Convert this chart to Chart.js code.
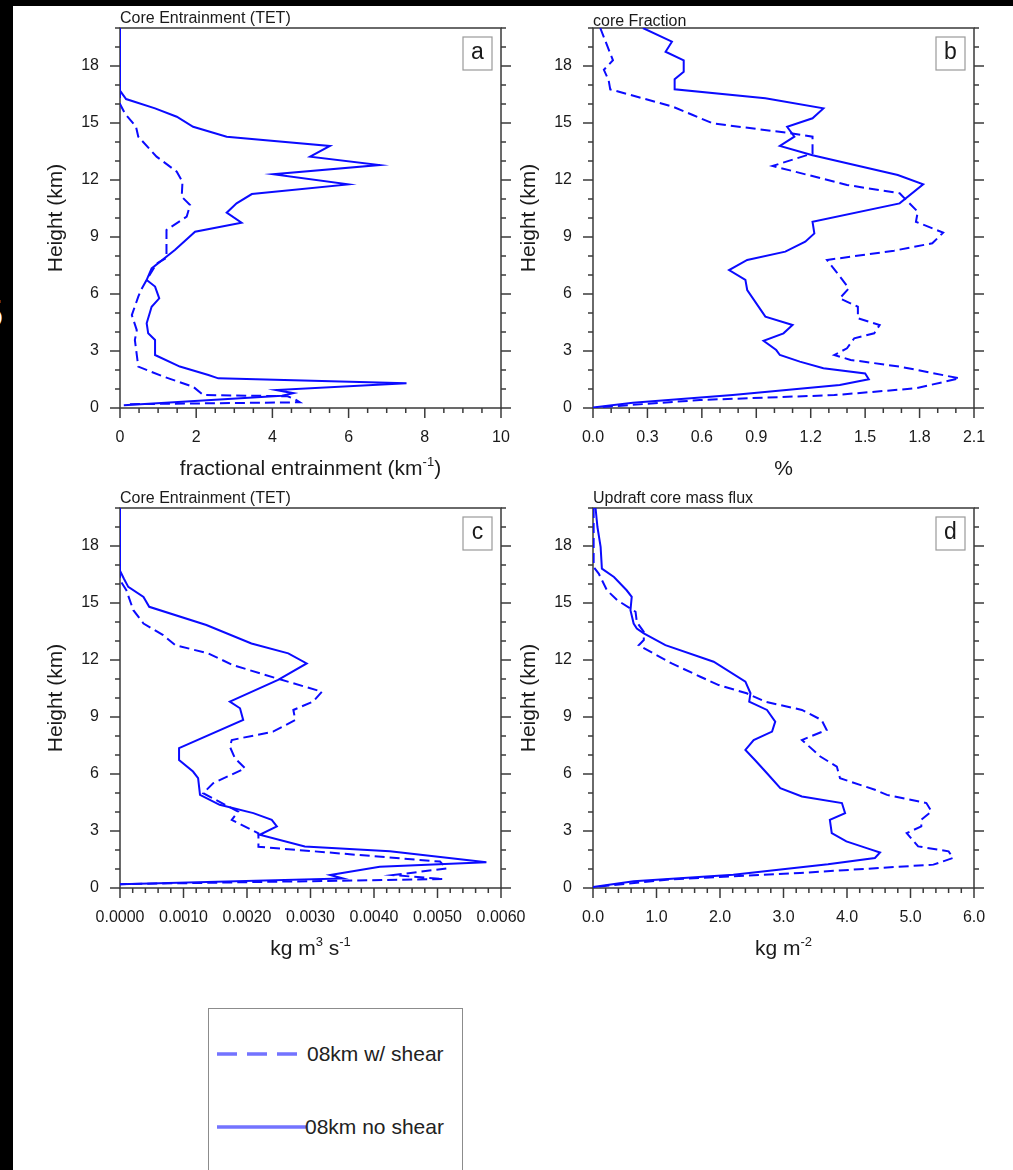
<!DOCTYPE html>
<html>
<head>
<meta charset="utf-8">
<script src="https://cdn.jsdelivr.net/npm/chart.js@4/dist/chart.umd.min.js"></script>
<style>
  body { margin: 0; width: 1013px; height: 1170px; overflow: hidden; background: #fff; position: relative;
         font-family: "Liberation Sans", Arial, sans-serif; }
  .band-top { position: absolute; left: 0; top: 0; width: 1013px; height: 6px; background: #000; }
  .band-left { position: absolute; left: 0; top: 0; width: 13px; height: 1170px; background: #000; overflow: hidden; }
  .band-left span { position: absolute; left: -18px; top: 295px; font-size: 38px; line-height: 38px; color: #fff; }
  canvas { position: absolute; }
  #ca { left: 13px; top: 6px; }
  #cb { left: 513px; top: 6px; }
  #cc { left: 13px; top: 480px; }
  #cd { left: 513px; top: 480px; }
  #legend { position: absolute; left: 208px; top: 1008px; width: 255px; height: 200px; box-sizing: border-box;
            border: 1.5px solid #8c8c8c; background: #fff; }
  #legend svg { position: absolute; left: 0; top: 0; }
  #legend span { position: absolute; font-size: 21px; line-height: 24px; color: #222; white-space: nowrap; }
</style>
</head>
<body>
<div class="band-top"></div>
<div class="band-left"><span>5</span></div>

<canvas id="ca" width="500" height="474"></canvas>
<canvas id="cb" width="500" height="474"></canvas>
<canvas id="cc" width="520" height="490"></canvas>
<canvas id="cd" width="500" height="490"></canvas>

<div id="legend">
  <svg width="252" height="190">
    <line x1="8" y1="45" x2="89" y2="45" stroke="#7373ff" stroke-width="3.5" stroke-dasharray="20 10"/>
    <line x1="8" y1="118" x2="97" y2="118" stroke="#7373ff" stroke-width="3.5"/>
  </svg>
  <span style="left:98px; top:33px">08km w/ shear</span>
  <span style="left:96px; top:106px">08km no shear</span>
</div>

<script>
// height levels (km) and profile values, one pair of arrays per curve
const yTicks = [0, 3, 6, 9, 12, 15, 18];

// (a) fractional entrainment, km^-1
const aTicks = [0, 2, 4, 6, 8, 10];
const aShearZ = [20, 16.0, 15.5, 14.8, 14.28, 13.23, 12.44, 11.91, 11.12, 10.68, 10.07, 9.37, 7.9, 7.6, 6.74, 6.2, 5.86, 4.89, 4.1, 3.58, 2.18, 1.65, 1.12, 0.68, 0.62, 0.45, 0.3, 0.2];
const aShearX = [0, 0, 0.13, 0.42, 0.48, 0.96, 1.49, 1.64, 1.62, 1.84, 1.75, 1.22, 1.22, 0.96, 0.7, 0.55, 0.48, 0.31, 0.44, 0.39, 0.48, 1.14, 1.92, 2.19, 4.4, 4.6, 4.72, 0.17];
const aNoShearZ = [20, 16.7, 16.26, 15.77, 15.33, 14.8, 14.28, 13.79, 13.23, 12.79, 12.3, 11.77, 11.26, 10.77, 10.28, 9.75, 9.28, 8.32, 7.35, 6.74, 6.39, 5.77, 5.33, 4.46, 3.93, 3.58, 2.79, 2.18, 1.74, 1.56, 1.30, 0.95, 0.78, 0.65, 0.15];
const aNoShearX = [0, 0, 0.16, 0.92, 1.49, 1.92, 2.8, 5.51, 4.99, 6.81, 4.02, 5.99, 3.46, 3.06, 2.8, 3.19, 1.97, 1.44, 0.83, 0.7, 0.92, 1.03, 0.83, 0.7, 0.74, 0.92, 0.92, 1.57, 2.32, 2.58, 7.52, 4.1, 4.55, 4.25, 0.1];

// (b) core fraction, %
const bTicks = [0, 0.3, 0.6, 0.9, 1.2, 1.5, 1.8, 2.1];
const bShearZ = [20, 18.3, 17.8, 17.26, 16.77, 15.86, 15.42, 14.98, 14.46, 14.28, 13.4, 12.74, 11.74, 11.3, 10.33, 9.8, 9.23, 8.67, 8.28, 7.79, 7.18, 6.3, 5.77, 5.33, 4.72, 4.37, 3.93, 3.67, 3.14, 2.79, 2.53, 2.18, 1.56, 1.04, 0.68, 0.42, 0.03];
const bShearX = [0.04, 0.11, 0.06, 0.086, 0.095, 0.44, 0.55, 0.66, 1.09, 1.21, 1.21, 0.99, 1.40, 1.69, 1.79, 1.78, 1.93, 1.87, 1.66, 1.29, 1.34, 1.41, 1.36, 1.46, 1.46, 1.58, 1.55, 1.44, 1.40, 1.33, 1.42, 1.69, 2.02, 1.78, 1.33, 0.59, 0.02];
const bNoShearZ = [20, 19.28, 18.75, 18.3, 17.7, 17.3, 16.77, 16.3, 15.77, 15.25, 14.8, 14.28, 13.79, 13.3, 12.26, 11.77, 10.77, 9.8, 9.19, 8.75, 8.23, 7.79, 7.26, 6.74, 6.21, 4.81, 4.37, 3.93, 3.54, 3.05, 2.79, 2.44, 2.09, 1.82, 1.51, 1.21, 0.68, 0.28, 0.03];
const bNoShearX = [0.275, 0.435, 0.40, 0.50, 0.50, 0.45, 0.45, 0.95, 1.27, 1.21, 1.07, 1.11, 1.03, 1.21, 1.68, 1.82, 1.69, 1.21, 1.22, 1.17, 1.06, 0.85, 0.75, 0.84, 0.85, 0.95, 1.10, 1.05, 0.94, 1.01, 1.03, 1.14, 1.27, 1.50, 1.52, 1.36, 0.77, 0.22, 0];

// (c) core entrainment, kg m^3 s^-1
const cTicks = [0, 0.001, 0.002, 0.003, 0.004, 0.005, 0.006];
const cShearZ = [20, 16.2, 15.67, 14.62, 13.92, 13.31, 12.78, 12.35, 11.73, 11.03, 10.33, 9.81, 9.37, 8.84, 8.23, 7.79, 7.44, 6.83, 6.3, 5.52, 4.99, 4.02, 3.58, 2.88, 2.17, 1.39, 1.03, 0.68, 0.47, 0.2];
const cShearX = [0, 0, 0.0001, 0.00021, 0.00037, 0.00068, 0.00087, 0.00139, 0.00178, 0.00247, 0.00318, 0.00304, 0.00273, 0.00276, 0.00241, 0.00176, 0.00173, 0.00181, 0.00197, 0.00147, 0.00131, 0.00186, 0.00176, 0.00218, 0.00218, 0.00504, 0.00514, 0.0043, 0.00509, 0];
const cNoShearZ = [20, 16.7, 16.29, 15.85, 15.32, 14.8, 13.84, 12.87, 12.35, 11.82, 10.95, 9.81, 9.46, 8.84, 7.36, 6.74, 6.13, 5.78, 4.9, 4.38, 3.94, 3.59, 3.24, 2.80, 2.19, 1.93, 1.35, 1.12, 0.68, 0.5, 0.2];
const cNoShearX = [0, 0, 0.00006, 0.00013, 0.00037, 0.00046, 0.00136, 0.00207, 0.00265, 0.00294, 0.00249, 0.00173, 0.00189, 0.00194, 0.00093, 0.00093, 0.00115, 0.00123, 0.00126, 0.00157, 0.0021, 0.00239, 0.00247, 0.0022, 0.00291, 0.00425, 0.00577, 0.00409, 0.00331, 0.00351, 0];

// (d) updraft core mass flux, kg m^-2
const dTicks = [0, 1, 2, 3, 4, 5, 6];
const dShearZ = [20, 16.9, 16.55, 15.67, 15.15, 14.54, 14.0, 13.48, 13.05, 12.78, 11.82, 11.12, 10.68, 10.25, 9.81, 9.37, 8.84, 8.32, 7.79, 6.92, 6.39, 5.78, 5.17, 4.9, 4.47, 4.03, 3.59, 3.24, 2.89, 2.19, 1.93, 1.58, 1.23, 0.79, 0.44, 0.05];
const dShearX = [0.01, 0.01, 0.09, 0.22, 0.38, 0.67, 0.69, 0.80, 0.80, 0.72, 1.24, 1.69, 1.98, 2.42, 2.71, 3.29, 3.60, 3.68, 3.29, 3.58, 3.84, 3.89, 4.44, 4.63, 5.25, 5.33, 5.17, 5.17, 4.94, 5.12, 5.60, 5.67, 5.36, 3.26, 1.16, 0];
const dNoShearZ = [20, 19, 17.95, 16.81, 16.37, 15.67, 15.32, 14.62, 13.92, 13.66, 13.4, 12.78, 11.91, 10.86, 10.25, 9.81, 9.37, 8.76, 8.23, 7.79, 7.27, 6.74, 6.04, 5.25, 4.82, 4.47, 3.94, 3.59, 2.89, 2.45, 2.10, 1.87, 1.58, 1.25, 0.70, 0.35, 0.05];
const dNoShearX = [0.04, 0.07, 0.12, 0.14, 0.33, 0.53, 0.61, 0.59, 0.64, 0.69, 0.8, 1.14, 1.90, 2.40, 2.48, 2.46, 2.74, 2.87, 2.82, 2.53, 2.40, 2.55, 2.74, 2.95, 3.29, 3.92, 3.97, 3.73, 3.76, 3.99, 4.31, 4.52, 4.44, 3.7, 2.21, 0.64, 0];

const FONT = '"Liberation Sans", Arial, sans-serif';
Chart.defaults.font.family = FONT;

function series(xs, zs, dashed) {
  return {
    data: zs.map((z, i) => ({ x: xs[i], y: z })),
    showLine: true,
    borderColor: '#0b0bff',
    borderWidth: 2,
    borderDash: dashed ? [10, 5] : [],
    pointRadius: 0,
    tension: 0,
    fill: false
  };
}

// text with raised pieces, e.g. km^-1
function drawParts(ctx, parts, cx, baseline, size) {
  const fontFor = p => (p.sup ? Math.round(size * 0.6) : size) + 'px ' + FONT;
  let w = 0;
  parts.forEach(p => { ctx.font = fontFor(p); w += ctx.measureText(p.t).width; });
  let x = cx - w / 2;
  ctx.textAlign = 'left';
  ctx.textBaseline = 'alphabetic';
  parts.forEach(p => {
    ctx.font = fontFor(p);
    ctx.fillText(p.t, x, p.sup ? baseline - size * 0.42 : baseline);
    x += ctx.measureText(p.t).width;
  });
}

// frame, outward ticks, titles and panel letter
const panelDecor = {
  id: 'panelDecor',
  beforeDatasetsDraw(chart, args, o) {
    const { ctx, chartArea: ca } = chart;
    const xs = chart.scales.x, ys = chart.scales.y;
    ctx.save();
    ctx.strokeStyle = '#3a3a3a';
    ctx.lineWidth = 1.5;
    ctx.strokeRect(ca.left, ca.top, ca.right - ca.left, ca.bottom - ca.top);

    const line = (x1, y1, x2, y2) => { ctx.beginPath(); ctx.moveTo(x1, y1); ctx.lineTo(x2, y2); ctx.stroke(); };
    for (let i = 0; i <= 20; i++) {
      const py = ys.getPixelForValue(i);
      const len = i % 3 === 0 ? 10 : 5;
      line(ca.left - len, py, ca.left, py);
      line(ca.right, py, ca.right + len, py);
    }
    for (let i = 0; i <= o.minorCount; i++) {
      const px = xs.getPixelForValue(i * o.minorStep);
      const len = i % o.perMajor === 0 ? 10 : 5;
      line(px, ca.bottom, px, ca.bottom + len);
    }

    ctx.fillStyle = '#1a1a1a';
    ctx.font = '16px ' + FONT;
    ctx.textAlign = 'left';
    ctx.textBaseline = 'alphabetic';
    ctx.fillText(o.title, ca.left, ca.top + o.titleDy);

    drawParts(ctx, o.xTitle, (ca.left + ca.right) / 2, ca.bottom + 67, 21);

    ctx.save();
    ctx.translate(ca.left - 58, (ca.top + ca.bottom) / 2);
    ctx.rotate(-Math.PI / 2);
    ctx.font = '21px ' + FONT;
    ctx.textAlign = 'center';
    ctx.fillText('Height (km)', 0, 0);
    ctx.restore();

    const bx = ca.right - 38, by = ca.top + 9;
    ctx.strokeStyle = '#9a9a9a';
    ctx.lineWidth = 1.2;
    ctx.strokeRect(bx, by, 29, 33);
    ctx.font = '23px ' + FONT;
    ctx.textAlign = 'center';
    ctx.textBaseline = 'middle';
    ctx.fillText(o.letter, bx + 14.5, by + 16);
    ctx.restore();
  }
};

// fixed axis box, no extra room for label overhang
function fixBox(s, w, h) {
  if (w !== null) s.width = w;
  if (h !== null) s.height = h;
  s.paddingTop = 0;
  s.paddingBottom = 0;
  s.paddingLeft = 0;
  s.paddingRight = 0;
}

function makePanel(id, cfg) {
  const tickFont = { family: FONT, size: 16 };
  new Chart(document.getElementById(id), {
    type: 'scatter',
    data: {
      datasets: [
        series(cfg.shearX, cfg.shearZ, true),
        series(cfg.noShearX, cfg.noShearZ, false)
      ]
    },
    options: {
      responsive: false,
      animation: false,
      layout: { padding: { top: cfg.padTop, right: cfg.padRight, left: 0, bottom: 0 } },
      plugins: {
        legend: { display: false },
        tooltip: { enabled: false },
        panelDecor: {
          title: cfg.title, titleDy: cfg.titleDy, xTitle: cfg.xTitle, letter: cfg.letter,
          minorStep: cfg.minorStep, minorCount: cfg.minorCount, perMajor: cfg.perMajor
        }
      },
      scales: {
        x: {
          type: 'linear', min: 0, max: cfg.xMax,
          grid: { display: false, drawTicks: false },
          border: { display: false },
          afterBuildTicks: s => { s.ticks = cfg.xTicks.map(v => ({ value: v })); },
          afterFit: s => fixBox(s, null, cfg.xAxisH),
          ticks: { font: tickFont, color: '#1a1a1a', padding: 20, maxRotation: 0, autoSkip: false,
                   callback: v => cfg.fmt(v) }
        },
        y: {
          type: 'linear', min: 0, max: 20,
          grid: { display: false, drawTicks: false },
          border: { display: false },
          afterBuildTicks: s => { s.ticks = yTicks.map(v => ({ value: v })); },
          afterFit: s => fixBox(s, cfg.yAxisW, null),
          ticks: { font: tickFont, color: '#1a1a1a', padding: 21, autoSkip: false, callback: v => String(v) }
        }
      }
    },
    plugins: [panelDecor]
  });
}

makePanel('ca', {
  shearX: aShearX, shearZ: aShearZ, noShearX: aNoShearX, noShearZ: aNoShearZ,
  xMax: 10, xTicks: aTicks, fmt: v => String(v), minorStep: 0.5, minorCount: 20, perMajor: 4,
  padTop: 22, padRight: 12, yAxisW: 107, xAxisH: 72,
  title: 'Core Entrainment (TET)', titleDy: -5, letter: 'a',
  xTitle: [{ t: 'fractional entrainment (km' }, { t: '-1', sup: true }, { t: ')' }]
});

makePanel('cb', {
  shearX: bShearX, shearZ: bShearZ, noShearX: bNoShearX, noShearZ: bNoShearZ,
  xMax: 2.1, xTicks: bTicks, fmt: v => v.toFixed(1), minorStep: 0.1, minorCount: 21, perMajor: 3,
  padTop: 22, padRight: 39, yAxisW: 80, xAxisH: 72,
  title: 'core Fraction', titleDy: -2, letter: 'b',
  xTitle: [{ t: '%' }]
});

makePanel('cc', {
  shearX: cShearX, shearZ: cShearZ, noShearX: cNoShearX, noShearZ: cNoShearZ,
  xMax: 0.006, xTicks: cTicks, fmt: v => v.toFixed(4), minorStep: 0.0002, minorCount: 30, perMajor: 5,
  padTop: 28, padRight: 32, yAxisW: 107, xAxisH: 82,
  title: 'Core Entrainment (TET)', titleDy: -5, letter: 'c',
  xTitle: [{ t: 'kg m' }, { t: '3', sup: true }, { t: ' s' }, { t: '-1', sup: true }]
});

makePanel('cd', {
  shearX: dShearX, shearZ: dShearZ, noShearX: dNoShearX, noShearZ: dNoShearZ,
  xMax: 6, xTicks: dTicks, fmt: v => v.toFixed(1), minorStep: 0.2, minorCount: 30, perMajor: 5,
  padTop: 28, padRight: 39, yAxisW: 80, xAxisH: 82,
  title: 'Updraft core mass flux', titleDy: -5, letter: 'd',
  xTitle: [{ t: 'kg m' }, { t: '-2', sup: true }]
});
</script>
</body>
</html>
